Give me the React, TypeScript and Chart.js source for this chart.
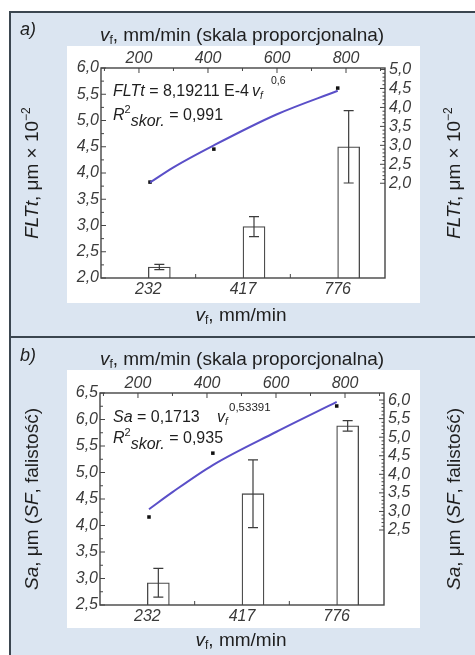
import React, { useEffect, useRef } from 'react';
import { Chart, registerables } from 'chart.js';

Chart.register(...registerables);

// ---------- data ----------
const categories = ['232', '417', '776'];
const topAxisTicks = [200, 400, 600, 800];

// panel a) FLTt
const fltBarValues = [2.21, 2.98, 4.5];
const fltBarErrors = [0.05, 0.19, 0.69];
const fltFitX = [232, 300, 417, 600, 776];
const fltFitY = [2.02, 2.42, 3.0, 3.82, 4.44];
const fltPointX = [232, 417, 776];
const fltPointY = [2.03, 2.9, 4.51];
const fltLeftTicks = [2.0, 2.5, 3.0, 3.5, 4.0, 4.5, 5.0, 5.5, 6.0];
const fltRightTicks = [2.0, 2.5, 3.0, 3.5, 4.0, 4.5, 5.0];

// panel b) Sa
const saBarValues = [2.92, 4.6, 5.88];
const saBarErrors = [0.27, 0.64, 0.1];
const saFitX = [232, 300, 417, 600, 776];
const saFitY = [3.06, 3.52, 4.25, 5.14, 5.95];
const saPointX = [232, 417, 776];
const saPointY = [2.85, 4.57, 5.84];
const saLeftTicks = [2.5, 3.0, 3.5, 4.0, 4.5, 5.0, 5.5, 6.0, 6.5];
const saRightTicks = [2.5, 3.0, 3.5, 4.0, 4.5, 5.0, 5.5, 6.0];

const FONT = "'Liberation Sans', Arial, sans-serif";
const INK = '#3a3a3a';
const fmt = (v: number) => v.toFixed(1).replace('.', ',');

const framePlugin = {
  id: 'frame',
  afterDraw(chart: any, _args: any, opts: any) {
    const { ctx, chartArea: a, scales } = chart;
    ctx.save();
    ctx.strokeStyle = '#454545';
    ctx.lineWidth = 1.4;
    ctx.strokeRect(a.left, a.top, a.right - a.left, a.bottom - a.top);
    ctx.lineWidth = 1;
    const line = (x1: number, y1: number, x2: number, y2: number) => {
      ctx.beginPath();
      ctx.moveTo(x1, y1);
      ctx.lineTo(x2, y2);
      ctx.stroke();
    };
    const isMult = (v: number, s: number) => Math.abs(v / s - Math.round(v / s)) < 1e-6;
    const yl = opts.leftTicks as number[];
    for (let v = yl[0]; v <= yl[yl.length - 1] + 1e-9; v += 0.25) {
      const p = scales.y.getPixelForValue(v);
      line(a.left, p, a.left + (isMult(v, 0.5) ? 5 : 3), p);
    }
    const yr = opts.rightTicks as number[];
    for (let v = yr[0]; v <= yr[yr.length - 1] + 1e-9; v += 0.1) {
      const p = scales.y2.getPixelForValue(v);
      line(a.right, p, a.right - (isMult(v, 0.5) ? 5 : 2.5), p);
    }
    for (let v = 100; v <= 900; v += 100) {
      const p = scales.x2.getPixelForValue(v);
      if (p < a.left || p > a.right) continue;
      line(p, a.top, p, a.top + (isMult(v, 200) ? 5 : 3));
    }
    for (let i = 0; i < categories.length - 1; i++) {
      const p = (scales.x.getPixelForValue(i) + scales.x.getPixelForValue(i + 1)) / 2;
      line(p, a.bottom, p, a.bottom - 4);
    }
    ctx.restore();
  },
};

const errorPlugin = {
  id: 'errbars',
  afterDatasetsDraw(chart: any, _args: any, opts: any) {
    const { ctx } = chart;
    const idx = chart.data.datasets.findIndex((d: any) => d.type === 'bar');
    const meta = chart.getDatasetMeta(idx);
    const y = chart.scales.y;
    ctx.save();
    ctx.strokeStyle = '#3c3c3c';
    ctx.lineWidth = 1.2;
    meta.data.forEach((el: any, i: number) => {
      const v = opts.values[i];
      const e = opts.errors[i];
      const x = el.x;
      const yt = y.getPixelForValue(v + e);
      const yb = y.getPixelForValue(v - e);
      ctx.beginPath();
      ctx.moveTo(x, yt);
      ctx.lineTo(x, yb);
      ctx.moveTo(x - 5, yt);
      ctx.lineTo(x + 5, yt);
      ctx.moveTo(x - 5, yb);
      ctx.lineTo(x + 5, yb);
      ctx.stroke();
    });
    ctx.restore();
  },
};

type PanelProps = {
  left: number;
  top: number;
  width: number;
  height: number;
  pad: { l: number; r: number; t: number; b: number };
  bars: number[];
  errors: number[];
  fitX: number[];
  fitY: number[];
  ptX: number[];
  ptY: number[];
  yMin: number;
  yMax: number;
  yTicks: number[];
  y2Min: number;
  y2Max: number;
  y2Ticks: number[];
};

function PanelChart(p: PanelProps) {
  const ref = useRef<HTMLCanvasElement>(null);
  useEffect(() => {
    const font = { family: FONT, size: 16, style: 'italic' as const };
    const noGrid = { display: false, drawTicks: false };
    const chart = new Chart(ref.current as HTMLCanvasElement, {
      type: 'bar',
      data: {
        labels: categories,
        datasets: [
          {
            type: 'line',
            data: p.fitX.map((x, i) => ({ x, y: p.fitY[i] })),
            xAxisID: 'x2',
            yAxisID: 'y2',
            borderColor: '#5a4fc8',
            borderWidth: 2,
            pointRadius: 0,
            cubicInterpolationMode: 'monotone',
            order: 0,
          } as any,
          {
            type: 'line',
            data: p.ptX.map((x, i) => ({ x, y: p.ptY[i] })),
            xAxisID: 'x2',
            yAxisID: 'y2',
            showLine: false,
            pointStyle: 'rect',
            pointRadius: 2.5,
            pointBackgroundColor: '#111',
            pointBorderWidth: 0,
            order: 1,
          } as any,
          {
            type: 'bar',
            data: p.bars,
            xAxisID: 'x',
            yAxisID: 'y',
            backgroundColor: '#ffffff',
            borderColor: '#4a4a4a',
            borderWidth: 1.3,
            barThickness: 22,
            order: 2,
          } as any,
        ],
      },
      options: {
        responsive: false,
        animation: false,
        layout: { padding: 0 },
        events: [],
        plugins: {
          legend: { display: false },
          tooltip: { enabled: false },
          frame: { leftTicks: p.yTicks, rightTicks: p.y2Ticks },
          errbars: { values: p.bars, errors: p.errors },
        } as any,
        scales: {
          x: {
            type: 'category',
            position: 'bottom',
            offset: true,
            grid: noGrid,
            border: { display: false },
            ticks: { font, color: INK, padding: 2, maxRotation: 0 },
            afterFit: (s: any) => {
              s.height = p.pad.b;
            },
          },
          x2: {
            type: 'linear',
            position: 'top',
            offset: false,
            min: 90,
            max: 913,
            grid: noGrid,
            border: { display: false },
            afterBuildTicks: (s: any) => {
              s.ticks = topAxisTicks.map((v) => ({ value: v }));
            },
            ticks: { font, color: INK, padding: 0, autoSkip: false, maxRotation: 0, callback: (v: any) => String(v) },
            afterFit: (s: any) => {
              s.height = p.pad.t;
            },
          },
          y: {
            type: 'linear',
            position: 'left',
            min: p.yMin,
            max: p.yMax,
            grid: noGrid,
            border: { display: false },
            afterBuildTicks: (s: any) => {
              s.ticks = p.yTicks.map((v) => ({ value: v }));
            },
            ticks: { font, color: INK, padding: 2, autoSkip: false, callback: (v: any) => fmt(Number(v)) },
            afterFit: (s: any) => {
              s.width = p.pad.l;
            },
          },
          y2: {
            type: 'linear',
            position: 'right',
            min: p.y2Min,
            max: p.y2Max,
            grid: noGrid,
            border: { display: false },
            afterBuildTicks: (s: any) => {
              s.ticks = p.y2Ticks.map((v) => ({ value: v }));
            },
            ticks: { font, color: INK, padding: 4, autoSkip: false, callback: (v: any) => fmt(Number(v)) },
            afterFit: (s: any) => {
              s.width = p.pad.r;
            },
          },
        } as any,
      },
      plugins: [framePlugin, errorPlugin],
    });
    return () => chart.destroy();
  }, []);
  return (
    <canvas
      ref={ref}
      width={p.width}
      height={p.height}
      style={{ position: 'absolute', left: p.left, top: p.top, width: p.width, height: p.height, background: '#fff' }}
    />
  );
}

const T = '#1e1e1e';
const TS = 19;

function Vf() {
  return (
    <>
      <tspan fontStyle="italic">v</tspan>
      <tspan fontSize={12} dy={3}>f</tspan>
      <tspan dy={-3}>, mm/min</tspan>
    </>
  );
}

export default function App() {
  return (
    <div style={{ position: 'absolute', left: 0, top: 0, width: 475, height: 655, overflow: 'hidden', background: '#fff' }}>
      <svg width={475} height={655} style={{ position: 'absolute', left: 0, top: 0 }}>
        <rect x={10} y={12} width={470} height={650} fill="#dbe5f1" />
        <line x1={10} y1={12} x2={475} y2={12} stroke="#3b4650" strokeWidth={2} />
        <line x1={10} y1={11} x2={10} y2={655} stroke="#3b4650" strokeWidth={2} />
        <line x1={10} y1={337} x2={475} y2={337} stroke="#3b4650" strokeWidth={2} />
      </svg>
      <PanelChart
        left={67}
        top={46}
        width={353}
        height={257}
        pad={{ l: 34, r: 35, t: 22, b: 25 }}
        bars={fltBarValues}
        errors={fltBarErrors}
        fitX={fltFitX}
        fitY={fltFitY}
        ptX={fltPointX}
        ptY={fltPointY}
        yMin={2}
        yMax={6}
        yTicks={fltLeftTicks}
        y2Min={-0.5}
        y2Max={5.04}
        y2Ticks={fltRightTicks}
      />
      <PanelChart
        left={67}
        top={370}
        width={353}
        height={258}
        pad={{ l: 33, r: 36, t: 23, b: 23 }}
        bars={saBarValues}
        errors={saBarErrors}
        fitX={saFitX}
        fitY={saFitY}
        ptX={saPointX}
        ptY={saPointY}
        yMin={2.5}
        yMax={6.5}
        yTicks={saLeftTicks}
        y2Min={0.48}
        y2Max={6.19}
        y2Ticks={saRightTicks}
      />
      <svg width={475} height={655} style={{ position: 'absolute', left: 0, top: 0, pointerEvents: 'none' }} fontFamily={FONT} fill={T}>
        {/* panel a */}
        <text x={20} y={35} fontSize={18} fontStyle="italic">a)</text>
        <text x={242} y={41} fontSize={TS} textAnchor="middle">
          <Vf />
          <tspan> (skala proporcjonalna)</tspan>
        </text>
        <text x={241} y={321} fontSize={TS} textAnchor="middle">
          <Vf />
        </text>
        <text transform="translate(38,173) rotate(-90)" fontSize={TS} textAnchor="middle">
          <tspan fontStyle="italic">FLTt</tspan>
          <tspan>, μm × 10</tspan>
          <tspan fontSize={12} dy={-8}>−2</tspan>
        </text>
        <text transform="translate(460,173) rotate(-90)" fontSize={TS} textAnchor="middle">
          <tspan fontStyle="italic">FLTt</tspan>
          <tspan>, μm × 10</tspan>
          <tspan fontSize={12} dy={-8}>−2</tspan>
        </text>
        <text x={113} y={96} fontSize={16}>
          <tspan fontStyle="italic">FLTt</tspan>
          <tspan> = 8,19211 E-4</tspan>
          <tspan x={252} fontStyle="italic">v</tspan>
          <tspan fontStyle="italic" fontSize={10} dy={3}>f</tspan>
          <tspan x={271} fontSize={10.5} dy={-15}>0,6</tspan>
        </text>
        <text x={113} y={120} fontSize={16}>
          <tspan fontStyle="italic">R</tspan>
          <tspan fontSize={11} dy={-7}>2</tspan>
          <tspan fontStyle="italic" dy={13}>skor.</tspan>
          <tspan dy={-6}> = 0,991</tspan>
        </text>

        {/* panel b */}
        <text x={20} y={361} fontSize={18} fontStyle="italic">b)</text>
        <text x={242} y={365} fontSize={TS} textAnchor="middle">
          <Vf />
          <tspan> (skala proporcjonalna)</tspan>
        </text>
        <text x={241} y={646} fontSize={TS} textAnchor="middle">
          <Vf />
        </text>
        <text transform="translate(38,499) rotate(-90)" fontSize={TS} textAnchor="middle">
          <tspan fontStyle="italic">Sa</tspan>
          <tspan>, μm (</tspan>
          <tspan fontStyle="italic">SF</tspan>
          <tspan>, falistość)</tspan>
        </text>
        <text transform="translate(460,499) rotate(-90)" fontSize={TS} textAnchor="middle">
          <tspan fontStyle="italic">Sa</tspan>
          <tspan>, μm (</tspan>
          <tspan fontStyle="italic">SF</tspan>
          <tspan>, falistość)</tspan>
        </text>
        <text x={113} y={422} fontSize={16}>
          <tspan fontStyle="italic">Sa</tspan>
          <tspan> = 0,1713</tspan>
          <tspan x={217} fontStyle="italic">v</tspan>
          <tspan fontStyle="italic" fontSize={10} dy={3}>f</tspan>
          <tspan x={229} fontSize={11.5} dy={-14}>0,53391</tspan>
        </text>
        <text x={113} y={443} fontSize={16}>
          <tspan fontStyle="italic">R</tspan>
          <tspan fontSize={11} dy={-7}>2</tspan>
          <tspan fontStyle="italic" dy={13}>skor.</tspan>
          <tspan dy={-6}> = 0,935</tspan>
        </text>
      </svg>
    </div>
  );
}
